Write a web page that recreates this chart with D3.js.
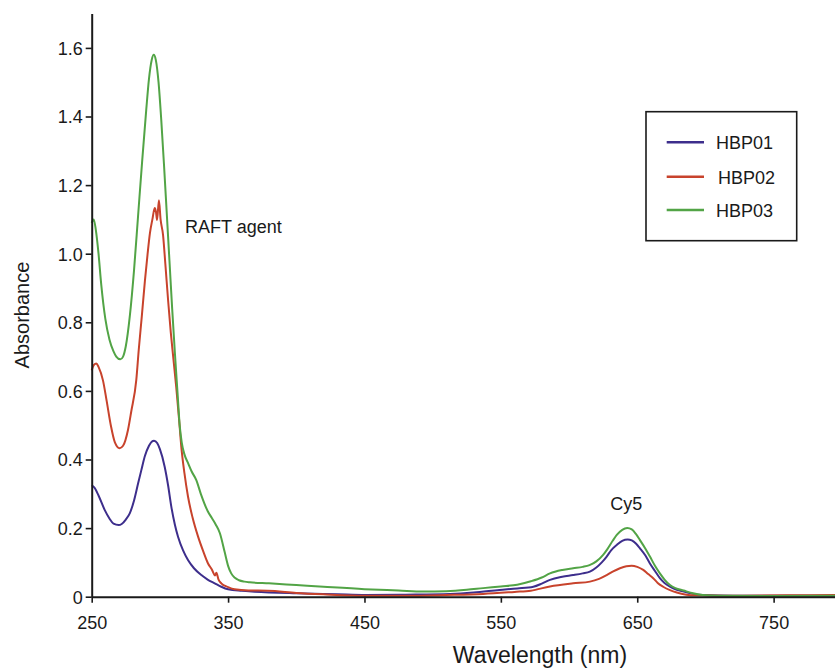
<!DOCTYPE html>
<html>
<head>
<meta charset="utf-8">
<script src="https://cdn.jsdelivr.net/npm/d3@7"></script>
<style>
  body { margin: 0; background: #fff; }
  svg { display: block; font-family: "Liberation Sans", Arial, sans-serif; }
</style>
</head>
<body>
<svg id="chart" width="835" height="668"></svg>
<script>
// ---- Data ----
const seriesNames = ["HBP01", "HBP02", "HBP03"];
const xTicks = [250, 350, 450, 550, 650, 750];
const yTicks = [0, 0.2, 0.4, 0.6, 0.8, 1.0, 1.2, 1.4, 1.6];

const hbp01Wl = [250,252,255,259.5,263,266,269.8,272,275,277.9,281,284,286.4,289,292,294,295.7,298,300,303.5,306,308.4,311,313.3,317,320.6,325,330.4,335,340.2,345,350,360,369.5,400,430,451,480,512.7,530,549,562,573.8,580,586,595,603,610,615.3,620,624,627.6,631,635,639,643,646,649,652,656,659.3,663,666.6,670,674,679,684,690,698,720,760,795];
const hbp01Abs = [0.325,0.318,0.295,0.253,0.228,0.213,0.209,0.212,0.225,0.243,0.28,0.33,0.369,0.41,0.44,0.452,0.455,0.448,0.43,0.379,0.325,0.262,0.21,0.175,0.135,0.107,0.083,0.063,0.05,0.039,0.029,0.0215,0.017,0.0146,0.01,0.007,0.005,0.006,0.008,0.012,0.0195,0.024,0.029,0.038,0.049,0.058,0.063,0.068,0.073,0.085,0.1,0.117,0.136,0.151,0.163,0.167,0.164,0.155,0.141,0.12,0.097,0.075,0.054,0.04,0.029,0.02,0.015,0.009,0.005,0.003,0.003,0.003];

const hbp02Wl = [250,251.5,253.4,255,258.3,261,264,267,270.5,273,276.6,279,282.7,284.5,286.7,289,291,292.7,294.5,296.2,297.2,297.9,299.3,300.5,302.3,304,306,308,310,312,314,315.7,318,320.6,324,328,332,335.3,338,340.5,341.4,343,345,350,354.8,365,379,400,420,450,480,510,537,560,572,586,603,615.3,622,627.6,632,637.3,642,645.9,650,654.4,658,661.7,665,669,674,679,686,693,720,760,795];
const hbp02Abs = [0.66,0.675,0.68,0.67,0.63,0.57,0.5,0.45,0.433,0.44,0.486,0.54,0.632,0.72,0.816,0.92,1.0,1.06,1.1,1.133,1.12,1.098,1.156,1.1,1.055,0.97,0.865,0.77,0.69,0.61,0.52,0.437,0.36,0.292,0.23,0.175,0.13,0.097,0.08,0.062,0.07,0.05,0.039,0.028,0.0215,0.018,0.0175,0.011,0.007,0.003,0.003,0.005,0.008,0.014,0.0175,0.03,0.039,0.044,0.052,0.063,0.073,0.083,0.089,0.0905,0.087,0.078,0.066,0.054,0.04,0.029,0.019,0.012,0.006,0.004,0.003,0.004,0.005];

const hbp03Wl = [250,251.5,253,255,257,260,263,266,268,271,273,275,278,281,284,287,290,292,294,295.5,297,299,301,303,305,307,309,311,313,314.5,316,318,320.6,323.3,326.7,330,335,338,341,344,347.5,350,352.3,355,358,362,366,380,400,420,450,475,493,510,525,537,550,562,572,580,586,595,603,610,615,620,625,628,632,635,639,642.7,646,649,652,656,659.3,663,666.6,670,674,678,684,690,698,710,750,795];
const hbp03Abs = [1.09,1.1,1.07,1.0,0.91,0.81,0.75,0.715,0.7,0.692,0.7,0.73,0.82,0.95,1.11,1.27,1.42,1.51,1.565,1.58,1.565,1.5,1.39,1.26,1.12,0.98,0.84,0.71,0.59,0.5,0.45,0.415,0.39,0.365,0.34,0.3,0.25,0.23,0.21,0.185,0.13,0.09,0.068,0.055,0.048,0.044,0.042,0.039,0.034,0.029,0.022,0.018,0.015,0.016,0.02,0.025,0.03,0.035,0.045,0.056,0.068,0.078,0.083,0.087,0.092,0.103,0.122,0.138,0.163,0.18,0.195,0.2,0.196,0.183,0.165,0.14,0.117,0.09,0.068,0.05,0.034,0.025,0.018,0.011,0.005,0.003,0.002,0.003];

const seriesColors = ["#3d2e8c", "#c8432c", "#52a446"];
const annotations = [
  { text: "RAFT agent", wl: 318.4, abs: 1.06, anchor: "start" },
  { text: "Cy5", wl: 642, abs: 0.253, anchor: "middle" }
];

// ---- Build ----
const svg = d3.select("#chart");
const x = d3.scaleLinear().domain([250, 795]).range([91.7, 835]);
const y = d3.scaleLinear().domain([0, 1.7]).range([596.7, 13.6]);

const series = [
  { name: seriesNames[0], wl: hbp01Wl, abs: hbp01Abs, color: seriesColors[0] },
  { name: seriesNames[1], wl: hbp02Wl, abs: hbp02Abs, color: seriesColors[1] },
  { name: seriesNames[2], wl: hbp03Wl, abs: hbp03Abs, color: seriesColors[2] }
];

const line = d3.line()
  .x(d => x(d[0]))
  .y(d => y(d[1]))
  .curve(d3.curveMonotoneX);

series.forEach(s => {
  svg.append("path")
    .datum(s.wl.map((w, i) => [w, s.abs[i]]))
    .attr("fill", "none")
    .attr("stroke", s.color)
    .attr("stroke-width", 2)
    .attr("stroke-linejoin", "round")
    .attr("d", line);
});

// axes
const xAxis = svg.append("g")
  .attr("transform", `translate(0,${y(0)})`)
  .call(d3.axisBottom(x).tickValues(xTicks).tickSize(6).tickPadding(14).tickSizeOuter(0));
const yAxis = svg.append("g")
  .attr("transform", `translate(${x(250)},0)`)
  .call(d3.axisLeft(y).tickValues(yTicks).tickSize(6).tickPadding(3).tickSizeOuter(0)
    .tickFormat(d => d === 0 ? "0" : d.toFixed(1)));

[xAxis, yAxis].forEach(g => {
  g.select(".domain").attr("stroke", "#1a1a1a").attr("stroke-width", 2);
  g.selectAll(".tick line").attr("stroke", "#1a1a1a").attr("stroke-width", 1.6);
  g.selectAll(".tick text")
    .attr("fill", "#1a1a1a")
    .style("font-size", "18px")
    .style("font-family", "'Liberation Sans', Arial, sans-serif");
});
yAxis.selectAll(".tick text").attr("dy", "0.36em");

// axis titles
svg.append("text")
  .attr("x", 540).attr("y", 663)
  .attr("text-anchor", "middle")
  .attr("fill", "#1a1a1a")
  .style("font-size", "23px")
  .text("Wavelength (nm)");

svg.append("text")
  .attr("transform", "translate(29,315) rotate(-90)")
  .attr("text-anchor", "middle")
  .attr("fill", "#1a1a1a")
  .style("font-size", "20px")
  .text("Absorbance");

// annotations
annotations.forEach(a => {
  svg.append("text")
    .attr("x", x(a.wl)).attr("y", y(a.abs))
    .attr("text-anchor", a.anchor)
    .attr("fill", "#1a1a1a")
    .style("font-size", "18px")
    .text(a.text);
});

// legend
const legend = svg.append("g");
legend.append("rect")
  .attr("x", 646).attr("y", 111.7).attr("width", 150.7).attr("height", 129)
  .attr("fill", "#fff").attr("stroke", "#1a1a1a").attr("stroke-width", 1.6);
const legendY = [142.3, 176.7, 210];
const legendTextX = [716, 718, 716];
series.forEach((s, i) => {
  legend.append("line")
    .attr("x1", 666.7).attr("x2", 704)
    .attr("y1", legendY[i]).attr("y2", legendY[i])
    .attr("stroke", s.color).attr("stroke-width", 2.5);
  legend.append("text")
    .attr("x", legendTextX[i]).attr("y", legendY[i] + 7)
    .attr("fill", "#1a1a1a")
    .style("font-size", "18px")
    .text(s.name);
});
</script>
</body>
</html>
